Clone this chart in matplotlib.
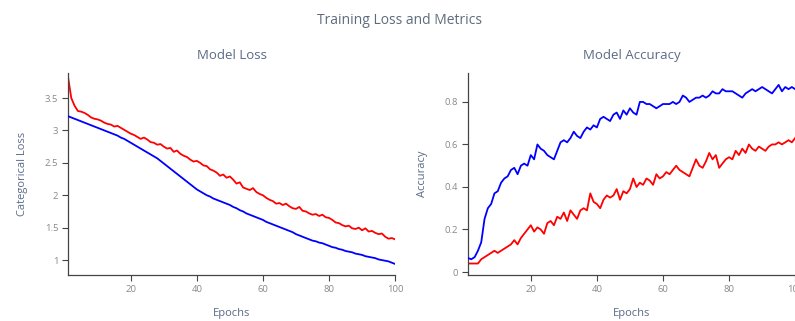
import matplotlib
matplotlib.use('Agg')
import matplotlib.pyplot as plt

plt.rcParams['font.family'] = ['Open Sans', 'DejaVu Sans']

# эпохи и значения метрик
epochs = list(range(1, 101))

train_loss = [3.22, 3.20, 3.18, 3.16, 3.14, 3.12, 3.10, 3.08, 3.06, 3.04,
              3.02, 3.00, 2.98, 2.96, 2.94, 2.92, 2.89, 2.87, 2.84, 2.81,
              2.78, 2.75, 2.72, 2.69, 2.66, 2.63, 2.60, 2.57, 2.53, 2.49,
              2.45, 2.41, 2.37, 2.33, 2.29, 2.25, 2.21, 2.17, 2.13, 2.09,
              2.06, 2.03, 2.00, 1.98, 1.95, 1.93, 1.91, 1.89, 1.87, 1.85,
              1.82, 1.80, 1.77, 1.75, 1.72, 1.70, 1.68, 1.66, 1.64, 1.62,
              1.59, 1.57, 1.55, 1.53, 1.51, 1.49, 1.47, 1.45, 1.43, 1.40,
              1.38, 1.36, 1.34, 1.32, 1.30, 1.29, 1.27, 1.26, 1.24, 1.22,
              1.20, 1.19, 1.17, 1.16, 1.14, 1.13, 1.12, 1.10, 1.09, 1.08,
              1.06, 1.05, 1.04, 1.03, 1.01, 1.00, 0.99, 0.98, 0.96, 0.94]

val_loss = [3.83, 3.50, 3.38, 3.30, 3.29, 3.27, 3.24, 3.20, 3.18, 3.17,
            3.15, 3.12, 3.10, 3.09, 3.06, 3.07, 3.04, 3.01, 2.98, 2.95,
            2.93, 2.90, 2.87, 2.89, 2.86, 2.82, 2.81, 2.78, 2.79, 2.75,
            2.72, 2.73, 2.67, 2.69, 2.64, 2.61, 2.59, 2.55, 2.52, 2.53,
            2.50, 2.46, 2.45, 2.40, 2.38, 2.35, 2.30, 2.32, 2.27, 2.29,
            2.24, 2.18, 2.20, 2.12, 2.10, 2.08, 2.11, 2.05, 2.02, 2.00,
            1.96, 1.93, 1.91, 1.87, 1.88, 1.85, 1.87, 1.83, 1.80, 1.79,
            1.82, 1.76, 1.75, 1.72, 1.70, 1.71, 1.68, 1.70, 1.66, 1.65,
            1.62, 1.58, 1.57, 1.54, 1.52, 1.53, 1.49, 1.48, 1.50, 1.46,
            1.49, 1.44, 1.45, 1.42, 1.40, 1.41, 1.36, 1.33, 1.34, 1.32]

train_acc = [0.066, 0.06, 0.07, 0.10, 0.14, 0.25, 0.30, 0.32, 0.37, 0.38,
             0.42, 0.44, 0.45, 0.48, 0.49, 0.46, 0.50, 0.51, 0.50, 0.55,
             0.53, 0.60, 0.58, 0.57, 0.55, 0.54, 0.53, 0.57, 0.61, 0.62,
             0.61, 0.63, 0.66, 0.64, 0.63, 0.66, 0.68, 0.67, 0.69, 0.68,
             0.72, 0.73, 0.72, 0.71, 0.74, 0.75, 0.72, 0.76, 0.74, 0.77,
             0.75, 0.74, 0.80, 0.80, 0.79, 0.79, 0.78, 0.77, 0.78, 0.79,
             0.79, 0.79, 0.80, 0.79, 0.80, 0.83, 0.82, 0.80, 0.81, 0.82,
             0.82, 0.83, 0.82, 0.83, 0.85, 0.84, 0.84, 0.86, 0.85, 0.85,
             0.85, 0.84, 0.83, 0.82, 0.84, 0.85, 0.86, 0.85, 0.86, 0.87,
             0.86, 0.85, 0.84, 0.86, 0.88, 0.85, 0.87, 0.86, 0.87, 0.86]

val_acc = [0.04, 0.04, 0.04, 0.04, 0.06, 0.07, 0.08, 0.09, 0.10, 0.09,
           0.10, 0.11, 0.12, 0.13, 0.15, 0.13, 0.16, 0.18, 0.20, 0.22,
           0.19, 0.21, 0.20, 0.18, 0.23, 0.24, 0.22, 0.26, 0.25, 0.28,
           0.24, 0.29, 0.27, 0.25, 0.29, 0.30, 0.29, 0.37, 0.33, 0.32,
           0.30, 0.34, 0.36, 0.35, 0.36, 0.39, 0.34, 0.38, 0.37, 0.39,
           0.44, 0.40, 0.42, 0.41, 0.44, 0.43, 0.41, 0.46, 0.44, 0.45,
           0.47, 0.46, 0.48, 0.50, 0.48, 0.47, 0.46, 0.45, 0.49, 0.53,
           0.50, 0.49, 0.52, 0.56, 0.53, 0.55, 0.49, 0.51, 0.53, 0.54,
           0.53, 0.57, 0.55, 0.58, 0.56, 0.60, 0.58, 0.57, 0.59, 0.58,
           0.57, 0.59, 0.60, 0.60, 0.61, 0.60, 0.61, 0.62, 0.61, 0.63]

loss_ticks = [1, 1.5, 2, 2.5, 3, 3.5]
acc_ticks = [0, 0.2, 0.4, 0.6, 0.8]
x_ticks = [20, 40, 60, 80, 100]

title_col = '#5f6b7d'
label_col = '#5b6b85'
tick_col = '#888888'

fig = plt.figure(figsize=(7.95, 3.21), dpi=100)
ax1 = fig.add_axes([0.0855, 0.1433, 0.4115, 0.6293])
ax2 = fig.add_axes([0.5887, 0.1433, 0.4115, 0.6293])

fig.text(0.503, 0.935, 'Training Loss and Metrics', ha='center', va='center',
         fontsize=10, color=title_col)

def style_axis(ax, yticks, ylabels):
    for side in ['top', 'right']:
        ax.spines[side].set_visible(False)
    for side in ['left', 'bottom']:
        ax.spines[side].set_color('#444444')
        ax.spines[side].set_linewidth(0.9)
    ax.set_xticks(x_ticks)
    ax.set_xticklabels([str(t) for t in x_ticks])
    ax.set_yticks(yticks)
    ax.set_yticklabels(ylabels)
    ax.tick_params(axis='both', length=4, width=0.8, color='#444444',
                   labelsize=6.8, labelcolor=tick_col, pad=3)
    ax.set_xlabel('Epochs', fontsize=8, color=label_col, labelpad=10)

# график потерь
ax1.plot(epochs, train_loss, color='blue', linewidth=1.3, zorder=3)
ax1.plot(epochs, val_loss, color='red', linewidth=1.3)
ax1.set_xlim(1, 100)
ax1.set_ylim(0.77, 3.886)
style_axis(ax1, loss_ticks, ['1', '1.5', '2', '2.5', '3', '3.5'])
ax1.set_ylabel('Categorical Loss', fontsize=8, color=label_col, labelpad=12)
ax1.set_title('Model Loss', fontsize=9.5, color=label_col, pad=10)

# график точности
ax2.plot(epochs, train_acc, color='blue', linewidth=1.3, zorder=3)
ax2.plot(epochs, val_acc, color='red', linewidth=1.3)
ax2.set_xlim(1, 100)
ax2.set_ylim(-0.014, 0.936)
style_axis(ax2, acc_ticks, ['0', '0.2', '0.4', '0.6', '0.8'])
ax2.set_ylabel('Accuracy', fontsize=8, color=label_col, labelpad=12)
ax2.set_title('Model Accuracy', fontsize=9.5, color=label_col, pad=10)

fig.savefig('out.png', dpi=100)
